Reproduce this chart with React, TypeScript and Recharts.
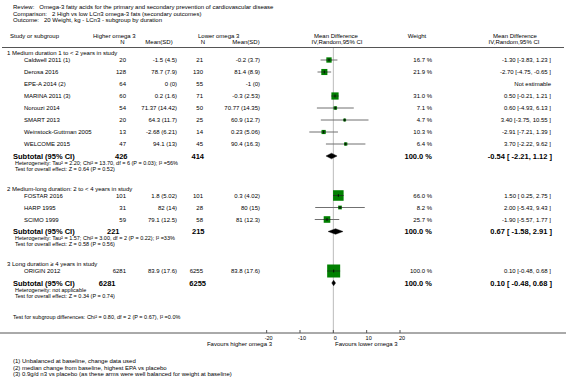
import React from 'react';
import { ComposedChart, Scatter, XAxis, YAxis, ReferenceLine, ReferenceArea } from 'recharts';

// ---------- data ----------
const reviewTitle = 'Omega-3 fatty acids for the primary and secondary prevention of cardiovascular disease';
const comparisonTitle = '2 High vs low LCn3 omega-3 fats (secondary outcomes)';
const outcomeTitle = '20 Weight, kg - LCn3 - subgroup by duration';

const groupTitles = [
  '1 Medium duration 1 to < 2 years in study',
  '2 Medium-long duration: 2 to < 4 years in study',
  '3 Long duration \u2265 4 years in study',
];
const studyGroup = [0, 0, 0, 0, 0, 0, 0, 0, 1, 1, 1, 2];
const studyNames = [
  'Caldwell 2011 (1)', 'Derosa 2016', 'EPE-A 2014 (2)', 'MARINA 2011 (3)', 'Norouzi 2014',
  'SMART 2013', 'Weinstock-Guttman 2005', 'WELCOME 2015',
  'FOSTAR 2016', 'HARP 1995', 'SCIMO 1999',
  'ORIGIN 2012',
];
const nHigher = [20, 128, 64, 60, 54, 20, 13, 47, 101, 31, 59, 6281];
const meanSdHigher = ['-1.5 (4.5)', '78.7 (7.9)', '0 (0)', '0.2 (1.6)', '71.37 (14.42)', '64.3 (11.7)', '-2.68 (6.21)', '94.1 (13)', '1.8 (5.02)', '82 (14)', '79.1 (12.5)', '83.9 (17.6)'];
const nLower = [21, 130, 55, 71, 50, 25, 14, 45, 101, 28, 58, 6255];
const meanSdLower = ['-0.2 (3.7)', '81.4 (8.9)', '-1 (0)', '-0.3 (2.53)', '70.77 (14.35)', '60.9 (12.7)', '0.23 (5.06)', '90.4 (16.3)', '0.3 (4.02)', '80 (15)', '81 (12.3)', '83.8 (17.6)'];
const weights: (number | null)[] = [16.7, 21.9, null, 31.0, 7.1, 4.7, 10.3, 6.4, 66.0, 8.2, 25.7, 100.0];
const meanDiff: (number | null)[] = [-1.3, -2.7, null, 0.5, 0.6, 3.4, -2.91, 3.7, 1.5, 2.0, -1.9, 0.1];
const ciLower: (number | null)[] = [-3.83, -4.75, null, -0.21, -4.93, -3.75, -7.21, -2.22, 0.25, -5.43, -5.57, -0.48];
const ciUpper: (number | null)[] = [1.23, -0.65, null, 1.21, 6.13, 10.55, 1.39, 9.62, 2.75, 9.43, 1.77, 0.68];

const subtotalNHigher = [426, 221, 6281];
const subtotalNLower = [414, 215, 6255];
const subtotalMd = [-0.54, 0.67, 0.1];
const subtotalLo = [-2.21, -1.58, -0.48];
const subtotalHi = [1.12, 2.91, 0.68];
const heterogeneity = [
  'Heterogeneity: Tau\u00b2 = 2.20; Chi\u00b2 = 13.70, df = 6 (P = 0.03); I\u00b2 =56%',
  'Heterogeneity: Tau\u00b2 = 1.57; Chi\u00b2 = 3.00, df = 2 (P = 0.22); I\u00b2 =33%',
  'Heterogeneity: not applicable',
];
const overallEffect = [
  'Test for overall effect: Z = 0.64 (P = 0.52)',
  'Test for overall effect: Z = 0.58 (P = 0.56)',
  'Test for overall effect: Z = 0.34 (P = 0.74)',
];
const subgroupTest = 'Test for subgroup differences: Chi\u00b2 = 0.80, df = 2 (P = 0.67), I\u00b2 =0.0%';
const footnotes = [
  '(1) Unbalanced at baseline, change data used',
  '(2) median change from baseline, highest EPA vs placebo',
  '(3) 0.9g/d n3 vs placebo (as these arms were well balanced for weight at baseline)',
];
const axisTicks = [-20, -10, 0, 10, 20];
const favoursLeft = 'Favours higher omega 3';
const favoursRight = 'Favours lower omega 3';

// ---------- layout ----------
const W = 566;
const H = 386;
const AXIS_Y = 333;
const FONT = '"Liberation Sans", Arial, Helvetica, sans-serif';
const GREEN = '#008000';
const SUB_N_HIGH_X = [127.5, 119.5, 115.5];
const SUB_N_LOW_X = [204, 204.5, 206];

const layout = (() => {
  let y = 53;
  const heads: number[] = [];
  const rows: number[] = [];
  const subs: number[] = [];
  const hets: number[] = [];
  const tests: number[] = [];
  groupTitles.forEach((_, g) => {
    heads.push(y);
    let r = y + 7;
    studyGroup.forEach((sg, i) => {
      if (sg === g) {
        rows[i] = r;
        r += 12;
      }
    });
    subs.push(r);
    hets.push(r + 6.5);
    tests.push(r + 12.5);
    y = r + 12.5 + 20;
  });
  return { heads, rows, subs, hets, tests };
})();

const fmt = (v: number) => v.toFixed(2);
const studyCi = (m: number, lo: number, hi: number) => `${fmt(m)} [${lo >= 0 ? ' ' : ''}${fmt(lo)}, ${fmt(hi)} ]`;
const subCi = (m: number, lo: number, hi: number) => `${fmt(m)} [ ${fmt(lo)}, ${fmt(hi)} ]`;

const studyPoints = studyNames
  .map((name, i) => ({ name, md: meanDiff[i], lo: ciLower[i], hi: ciUpper[i], y: layout.rows[i], w: weights[i] }))
  .filter((p) => p.md != null);

// ---------- pieces ----------
const T = (p: any) => (
  <text
    x={p.x}
    y={p.y}
    fontSize={p.size || 6}
    fontWeight={p.bold ? 'bold' : 'normal'}
    textAnchor={p.anchor || 'start'}
    dominantBaseline="central"
    fontFamily={FONT}
    fill="#000"
  >
    {p.children}
  </text>
);

const SquareShape = (props: any) => {
  const { cx, cy, payload } = props;
  const s = 1.3 * Math.sqrt(payload.w);
  return (
    <g>
      <rect x={cx - s / 2} y={cy - s / 2} width={s} height={s} fill={GREEN} />
      <line x1={cx - s / 2} x2={cx + s / 2} y1={cy} y2={cy} stroke="#222" strokeWidth={0.7} />
      <line x1={cx} x2={cx} y1={cy - 1.5} y2={cy + 1.5} stroke="#000" strokeWidth={0.8} />
    </g>
  );
};

const DiamondShape = (props: any) => {
  const x = Number(props.x);
  const y = Number(props.y);
  const w = Math.abs(Number(props.width));
  const h = Math.abs(Number(props.height));
  const xm = x + w / 2;
  const pts = `${x},${y + h / 2} ${xm},${y} ${x + w},${y + h / 2} ${xm},${y + h}`;
  return <polygon points={pts} fill="#000" stroke="#000" strokeWidth={0.4} />;
};

const AxisTick = (props: any) => {
  const { x, y, payload } = props;
  return (
    <g>
      <line x1={x} x2={x} y1={y - 3} y2={y} stroke="#555" strokeWidth={1} />
      <text x={x + 2} y={y + 5} fontSize={5.5} textAnchor="middle" dominantBaseline="central" fontFamily={FONT} fill="#000">
        {payload.value}
      </text>
    </g>
  );
};

export default function App() {
  return (
    <div style={{ position: 'absolute', left: 0, top: 0, width: W, height: H, background: '#fff' }}>
      <ComposedChart width={W} height={H} margin={{ top: 0, right: 0, bottom: 0, left: 0 }}>
        <XAxis
          type="number"
          dataKey="md"
          domain={[-100, 69.8]}
          ticks={axisTicks}
          interval={0}
          allowDataOverflow
          height={H - AXIS_Y}
          axisLine={{ stroke: '#555', strokeWidth: 1 }}
          tickLine={false}
          tickSize={0}
          tickMargin={0}
          tick={<AxisTick />}
        />
        <YAxis type="number" dataKey="y" domain={[0, AXIS_Y]} reversed hide allowDataOverflow />
        <ReferenceLine
          segment={[{ x: 0, y: 48 }, { x: 0, y: AXIS_Y }]}
          stroke="#bbb"
          strokeWidth={1}
          ifOverflow="visible"
          {...({ zIndex: -90 } as any)}
        />
        {studyPoints.map((p) => (
          <ReferenceLine
            key={'ci' + p.name}
            segment={[{ x: p.lo as number, y: p.y }, { x: p.hi as number, y: p.y }]}
            stroke="#707070"
            strokeWidth={1}
            ifOverflow="visible"
          />
        ))}
        {subtotalMd.map((m, g) => (
          <ReferenceArea
            key={'d' + g}
            x1={subtotalLo[g]}
            x2={subtotalHi[g]}
            y1={layout.subs[g] - 2.8}
            y2={layout.subs[g] + 2.8}
            ifOverflow="visible"
            shape={DiamondShape}
            {...({ zIndex: 700 } as any)}
          />
        ))}
        <Scatter data={studyPoints} dataKey="y" isAnimationActive={false} shape={<SquareShape />} />
      </ComposedChart>

      <svg width={W} height={H} style={{ position: 'absolute', left: 0, top: 0, pointerEvents: 'none' }}>
        <T x={13} y={7}>Review:<tspan dx={5}>{reviewTitle}</tspan></T>
        <T x={13} y={13.5}>Comparison:<tspan dx={5}>{comparisonTitle}</tspan></T>
        <T x={13} y={20}>Outcome:<tspan dx={5}>{outcomeTitle}</tspan></T>

        <T x={10} y={36}>Study or subgroup</T>
        <T x={93} y={36}>Higher omega 3</T>
        <T x={198} y={36}>Lower omega 3</T>
        <T x={336} y={36} anchor="middle">Mean Difference</T>
        <T x={417} y={36} anchor="middle">Weight</T>
        <T x={515} y={36} anchor="middle">Mean Difference</T>
        <T x={124.5} y={42} anchor="end">N</T>
        <T x={159} y={42} anchor="middle">Mean(SD)</T>
        <T x={205} y={42} anchor="end">N</T>
        <T x={246} y={42} anchor="middle">Mean(SD)</T>
        <T x={337} y={42} anchor="middle">IV,Random,95% CI</T>
        <T x={514} y={42} anchor="middle">IV,Random,95% CI</T>
        <line x1={2} x2={564} y1={47.5} y2={47.5} stroke="#555" strokeWidth={1} />

        {groupTitles.map((t, g) => (
          <g key={'g' + g}>
            <T x={7} y={layout.heads[g]}>{t}</T>
            <T x={13} y={layout.subs[g]} bold size={7.5}>Subtotal (95% CI)</T>
            <T x={SUB_N_HIGH_X[g]} y={layout.subs[g]} bold size={7.5} anchor="end">{subtotalNHigher[g]}</T>
            <T x={SUB_N_LOW_X[g]} y={layout.subs[g]} bold size={7.5} anchor="end">{subtotalNLower[g]}</T>
            <T x={432} y={layout.subs[g]} bold size={7.5} anchor="end">100.0 %</T>
            <T x={552} y={layout.subs[g]} bold size={7.5} anchor="end">{subCi(subtotalMd[g], subtotalLo[g], subtotalHi[g])}</T>
            <T x={15} y={layout.hets[g]} size={5.5}>{heterogeneity[g]}</T>
            <T x={15} y={layout.tests[g]} size={5.5}>{overallEffect[g]}</T>
          </g>
        ))}

        {studyNames.map((name, i) => (
          <g key={'s' + i}>
            <T x={24} y={layout.rows[i]}>{name}</T>
            <T x={126} y={layout.rows[i]} anchor="end">{nHigher[i]}</T>
            <T x={177} y={layout.rows[i]} anchor="end">{meanSdHigher[i]}</T>
            <T x={203} y={layout.rows[i]} anchor="end">{nLower[i]}</T>
            <T x={260} y={layout.rows[i]} anchor="end">{meanSdLower[i]}</T>
            {weights[i] != null && (
              <T x={432} y={layout.rows[i]} anchor="end">{(weights[i] as number).toFixed(1)} %</T>
            )}
            <T x={551} y={layout.rows[i]} anchor="end">
              {meanDiff[i] == null ? 'Not estimable' : studyCi(meanDiff[i] as number, ciLower[i] as number, ciUpper[i] as number)}
            </T>
          </g>
        ))}

        <T x={13} y={317} size={5.5}>{subgroupTest}</T>
        <T x={272} y={344} anchor="end">{favoursLeft}</T>
        <T x={335} y={344}>{favoursRight}</T>
        {footnotes.map((f, i) => (
          <T key={'f' + i} x={13} y={361 + i * 6.5}>{f}</T>
        ))}
      </svg>
    </div>
  );
}
